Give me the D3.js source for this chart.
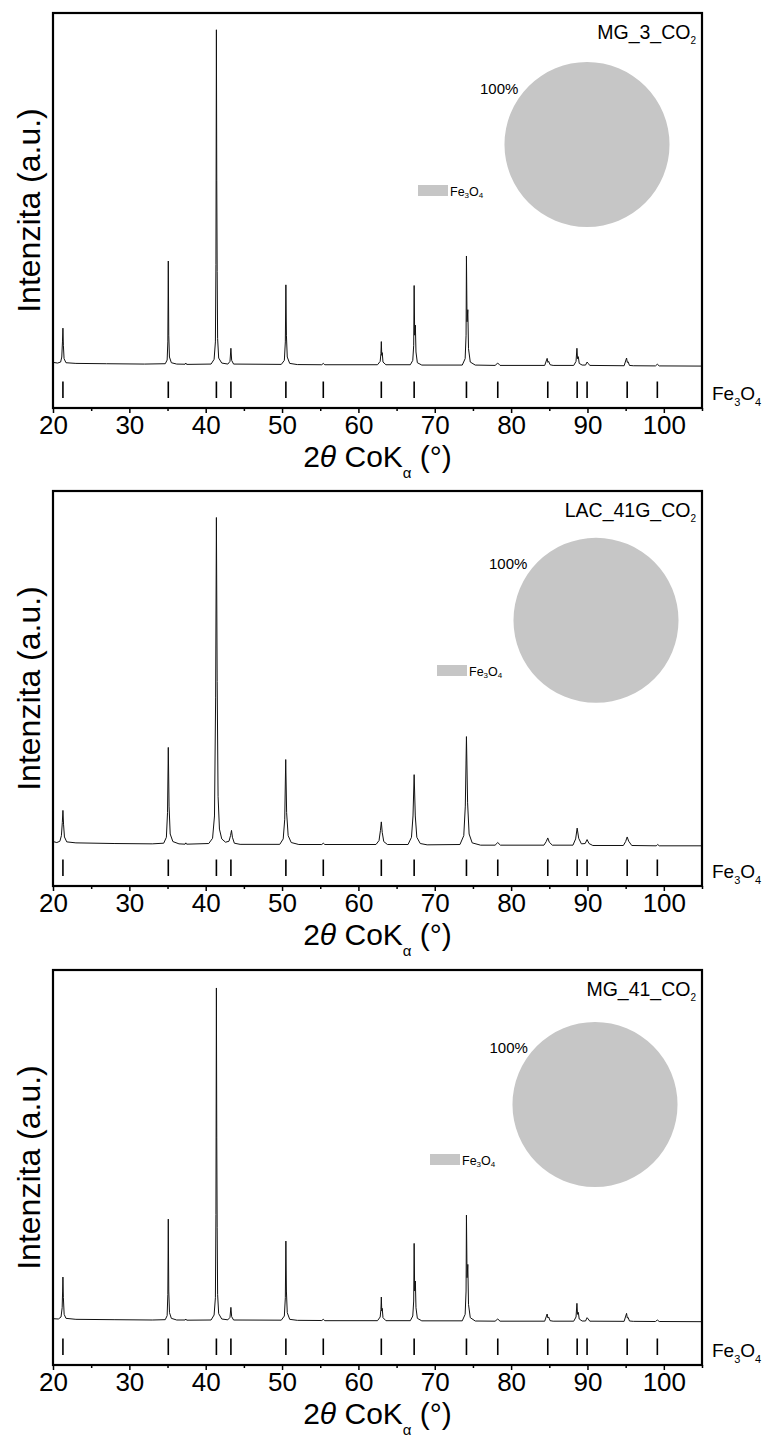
<!DOCTYPE html>
<html><head><meta charset="utf-8">
<script src="https://cdn.jsdelivr.net/npm/d3@7"></script>
<style>
body{margin:0;background:#fff}
svg{display:block}
text{font-family:Arial,"Liberation Sans",sans-serif;fill:#000}
</style>
</head><body>
<svg id="c" width="768" height="1438"></svg>
<script>
// ---------------- DATA ----------------
const sampleTitles = [
  [["MG_3_CO",0],["2",1]],
  [["LAC_41G_CO",0],["2",1]],
  [["MG_41_CO",0],["2",1]]
];
const phaseLabel = [["Fe",0],["3",1],["O",0],["4",1]];
const pieShares = [[100],[100],[100]];          // % Fe3O4 in each sample
const xTicks = [20,30,40,50,60,70,80,90,100];
const xMinorTicks = [25,35,45,55,65,75,85,95,105];
// Fe3O4 reference reflections (2θ, Co Kα)
const reflections = [21.3,35.1,41.4,43.3,50.5,55.4,63.0,67.3,74.15,78.25,84.8,88.65,89.95,95.2,99.15];

// measured patterns [2θ, relative intensity]
const profileMG3 = [
[20.0,0.9],[20.6,0.7],[21.0,1.0],[21.15,2.5],[21.24,7],[21.3,11.1],[21.36,6],[21.45,2],[21.7,0.8],[23,0.6],[27,0.5],[32,0.4],
[34.7,0.5],[34.95,1.6],[35.04,7],[35.1,31.1],[35.16,9],[35.25,2.5],[35.5,0.8],[36.2,0.4],[37.3,0.35],[37.4,0.7],[37.5,0.3],
[40.7,0.4],[41.1,1.8],[41.27,7],[41.34,30],[41.4,100],[41.45,55],[41.5,28],[41.56,8],[41.7,2.2],[42.1,0.7],[42.9,0.4],
[43.18,1.2],[43.3,5.1],[43.4,1.5],[43.65,0.4],
[49.9,0.3],[50.3,1.5],[50.43,7],[50.5,24],[50.57,9],[50.68,2.5],[51.0,0.6],[52,0.25],
[55.2,0.2],[55.4,0.6],[55.6,0.2],
[62.5,0.2],[62.85,1.2],[62.95,3.5],[63.0,7.1],[63.06,3],[63.12,3.8],[63.22,1],[63.6,0.2],
[66.8,0.2],[67.12,1.5],[67.24,6],[67.3,23.8],[67.37,9],[67.46,12],[67.54,4],[67.72,0.8],[68.3,0.1],
[73.6,0.1],[73.98,2],[74.1,9],[74.15,32.6],[74.23,13],[74.33,16.6],[74.42,5],[74.65,1],[75.3,0.1],
[77.9,0],[78.25,0.7],[78.55,0],
[84.4,0],[84.72,2.1],[84.82,0.9],[84.92,1.2],[85.1,0.2],[85.5,0],
[88.2,0],[88.5,1.2],[88.62,5.1],[88.7,2],[88.8,2.6],[88.92,0.6],[89.3,0.1],
[89.75,0.1],[89.95,1],[90.1,0.6],[90.3,0],
[94.8,-0.1],[95.12,2.2],[95.22,0.9],[95.32,1.1],[95.5,0],[96,-0.1],
[98.9,-0.15],[99.15,0.35],[99.4,-0.15],
[105,-0.2]
];
const profileLAC41G = [
[20.0,1.2],[20.5,0.9],[20.9,1.3],[21.1,3],[21.22,7],[21.3,10.7],[21.38,6.5],[21.5,2.6],[21.8,1.1],[23,0.8],[28,0.6],[33,0.5],
[34.5,0.7],[34.85,2.5],[35.0,10],[35.1,29.9],[35.2,12],[35.35,3.5],[35.7,1.2],[36.5,0.5],[37.3,0.4],[37.4,0.8],[37.5,0.4],
[40.4,0.6],[40.9,2.2],[41.15,9],[41.3,45],[41.4,100],[41.5,50],[41.62,15],[41.8,5],[42.1,2],[42.6,1],
[43.05,1.3],[43.25,3],[43.38,4.6],[43.5,2.5],[43.75,0.7],[44.5,0.35],
[49.7,0.35],[50.15,2],[50.35,8],[50.48,26.2],[50.6,10],[50.8,3],[51.2,0.9],[52.2,0.3],
[55.2,0.3],[55.4,0.7],[55.6,0.3],
[62.3,0.3],[62.7,1.5],[62.88,4.5],[63.0,7.2],[63.12,4],[63.32,1.2],[63.8,0.3],
[66.5,0.3],[66.95,2.5],[67.15,9],[67.3,21.6],[67.45,9],[67.65,2.5],[68.1,0.6],[69,0.2],
[73.3,0.3],[73.8,3],[74.0,12],[74.15,33.2],[74.3,13],[74.5,3.5],[74.9,0.8],[76,0.1],
[77.9,0.1],[78.25,0.9],[78.6,0.1],
[84.3,0.1],[84.6,1.2],[84.8,2.3],[85.0,1],[85.4,0.1],
[88.1,0.1],[88.45,2],[88.65,5.3],[88.85,2.2],[89.2,0.5],[89.7,0.6],[89.95,1.8],[90.2,0.6],[90.7,0],
[94.7,0],[95.0,1.2],[95.2,2.6],[95.4,1.3],[95.8,0],
[99.0,-0.1],[99.2,0.3],[99.4,-0.1],
[105,-0.1]
];
const profileMG41 = [
[20.0,0.7],[20.7,0.6],[21.05,1.2],[21.2,4],[21.26,9],[21.3,13.2],[21.36,7],[21.46,2],[21.7,0.8],[23,0.5],[28,0.4],[33,0.3],
[34.7,0.4],[34.95,1.6],[35.04,8],[35.1,30.6],[35.16,9],[35.26,2.5],[35.5,0.8],[36.2,0.3],[37.3,0.3],[37.4,0.6],[37.5,0.25],
[40.7,0.3],[41.1,1.8],[41.27,7],[41.34,32],[41.4,100],[41.45,55],[41.5,28],[41.56,8],[41.7,2.2],[42.1,0.6],[42.9,0.35],
[43.18,1.1],[43.3,4.1],[43.4,1.3],[43.65,0.3],
[49.9,0.25],[50.3,1.5],[50.43,7],[50.5,24],[50.57,9],[50.68,2.5],[51.0,0.5],[52,0.2],
[55.2,0.15],[55.4,0.5],[55.6,0.1],
[62.5,0.1],[62.85,1.2],[62.95,3.5],[63.0,7.2],[63.06,3],[63.12,3.8],[63.22,1],[63.6,0.1],
[66.8,0.1],[67.12,1.5],[67.24,6],[67.3,23.3],[67.37,9],[67.46,12],[67.54,4],[67.72,0.8],[68.3,0.05],
[73.6,0.05],[73.98,2],[74.1,9],[74.15,31.8],[74.23,13],[74.33,17],[74.42,5],[74.65,1],[75.3,0],
[77.9,-0.05],[78.25,0.6],[78.55,-0.05],
[84.4,-0.05],[84.72,2.1],[84.82,0.9],[84.92,1.2],[85.1,0.1],[85.5,-0.05],
[88.2,-0.05],[88.5,1.2],[88.62,5.3],[88.7,2],[88.8,2.6],[88.92,0.6],[89.3,0],
[89.75,0],[89.95,1],[90.1,0.6],[90.3,-0.05],
[94.8,-0.1],[95.12,2.3],[95.22,0.9],[95.32,1.1],[95.5,0],[96,-0.1],
[98.9,-0.15],[99.15,0.3],[99.4,-0.15],
[105,-0.2]
];
const profiles = [profileMG3, profileLAC41G, profileMG41];

// ---------------- LAYOUT ----------------
const panelOffsets = [0, 478, 957];
const frame = {left:53, right:702, top:13, bottom:408};
const yDomains = [[-12.69,105.0],[-12.35,108.08],[-13.21,105.4]];
const pieCenters = [[587,144.5],[596,142.3],[595,147.5]];
const pieRadius = 82.5;
const pctLabelPos = [[480,94],[489,91.3],[489.5,96.3]];
const legendPos = [[418,185],[437,187],[430,197]];
const grey = "#c6c6c6";

function rich(textSel, parts, subSize, shift){
  let cur = 0;
  parts.forEach(([s, sub]) => {
    const t = textSel.append("tspan").text(s);
    const target = sub ? shift : 0;
    if (target !== cur) { t.attr("dy", target - cur); cur = target; }
    if (sub) t.style("font-size", subSize + "px");
  });
}

const svg = d3.select("#c");
const x = d3.scaleLinear().domain([20,105]).range([frame.left, frame.right]);

profiles.forEach((prof, i) => {
  const g = svg.append("g").attr("transform", `translate(0,${panelOffsets[i]})`);
  const y = d3.scaleLinear().domain(yDomains[i]).range([frame.bottom, frame.top]);

  // pattern
  g.append("path").datum(prof)
    .attr("d", d3.line().x(d => x(d[0])).y(d => y(d[1])))
    .attr("fill","none").attr("stroke","#111").attr("stroke-width",1)
    .attr("stroke-linejoin","round");

  // reflection markers
  g.selectAll(".refl").data(reflections).join("line").attr("class","refl")
    .attr("x1", d => x(d)).attr("x2", d => x(d))
    .attr("y1", 381.5).attr("y2", 398)
    .attr("stroke","#000").attr("stroke-width",1.6);

  // phase label at right
  const pl = g.append("text").attr("x", 712).attr("y", 399.5).style("font-size","19px");
  rich(pl, phaseLabel, 11, 6);

  // axes
  const ax = g.append("g").attr("transform", `translate(0,${frame.bottom})`)
    .call(d3.axisBottom(x).tickValues(xTicks).tickSize(5).tickPadding(2.5).tickFormat(d3.format("d")));
  ax.select(".domain").remove();
  ax.attr("font-size", 26).attr("font-family", 'Arial,"Liberation Sans",sans-serif');
  ax.selectAll("line").attr("stroke","#000").attr("stroke-width",1.5);
  ax.selectAll("text").attr("fill","#000");
  const axm = g.append("g").attr("transform", `translate(0,${frame.bottom})`)
    .call(d3.axisBottom(x).tickValues(xMinorTicks).tickSize(3).tickFormat(""));
  axm.select(".domain").remove();
  axm.selectAll("line").attr("stroke","#000").attr("stroke-width",1.5);

  // frame
  g.append("rect").attr("x", frame.left).attr("y", frame.top)
    .attr("width", frame.right - frame.left).attr("height", frame.bottom - frame.top)
    .attr("fill","none").attr("stroke","#000").attr("stroke-width",2.2);

  // axis titles
  const xt = g.append("text").attr("x", (frame.left + frame.right)/2).attr("y", 466.5)
    .attr("text-anchor","middle").style("font-size","30px");
  xt.append("tspan").text("2");
  xt.append("tspan").text("θ").style("font-style","italic");
  xt.append("tspan").text(" CoK");
  xt.append("tspan").text("α").attr("dy", 11).style("font-size","15px");
  xt.append("tspan").text(" (°)").attr("dy", -11);

  g.append("text").attr("transform", `translate(40,${(frame.top+frame.bottom)/2}) rotate(-90)`)
    .attr("text-anchor","middle").style("font-size","32px").text("Intenzita (a.u.)");

  // sample title
  const st = g.append("text").attr("x", 696).attr("y", 38.5).attr("text-anchor","end").style("font-size","19.5px");
  rich(st, sampleTitles[i], 10, 5.5);

  // pie
  const arcs = d3.pie().sort(null)(pieShares[i]);
  const arc = d3.arc().innerRadius(0).outerRadius(pieRadius);
  g.append("g").attr("transform", `translate(${pieCenters[i][0]},${pieCenters[i][1]})`)
    .selectAll("path").data(arcs).join("path").attr("d", arc).attr("fill", grey);
  g.append("text").attr("x", pctLabelPos[i][0]).attr("y", pctLabelPos[i][1])
    .style("font-size","15px").text(pieShares[i][0] + "%");

  // legend
  g.append("rect").attr("x", legendPos[i][0]).attr("y", legendPos[i][1])
    .attr("width", 30).attr("height", 11).attr("fill", grey);
  const lt = g.append("text").attr("x", legendPos[i][0] + 32).attr("y", legendPos[i][1] + 10.5)
    .style("font-size","12.5px");
  rich(lt, phaseLabel, 8, 2.5);
});
</script>
</body></html>
